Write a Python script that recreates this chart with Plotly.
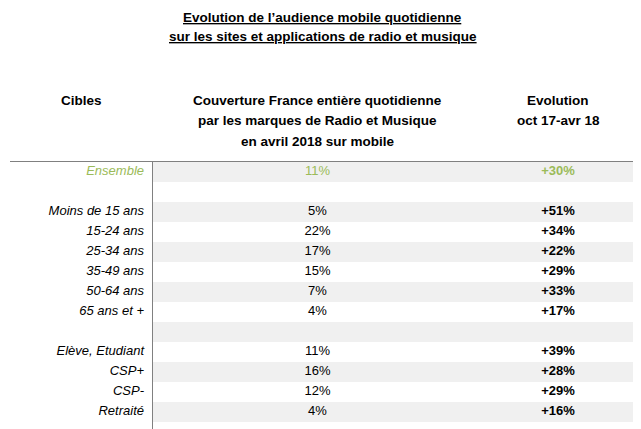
import plotly.graph_objects as go

title_lines = ["Evolution de l\u2019audience mobile quotidienne",
               "sur les sites et applications de radio et musique"]
header_cibles = "Cibles"
header_couv = ["Couverture France enti\u00e8re quotidienne",
               "par les marques de Radio et Musique",
               "en avril 2018 sur mobile"]
header_evol = ["Evolution", "oct 17-avr 18"]

cibles = ["Ensemble", "", "Moins de 15 ans", "15-24 ans", "25-34 ans", "35-49 ans",
          "50-64 ans", "65 ans et +", "", "El\u00e8ve, Etudiant", "CSP+", "CSP-", "Retrait\u00e9"]
couverture = ["11%", "", "5%", "22%", "17%", "15%", "7%", "4%", "", "11%", "16%", "12%", "4%"]
evolution = ["+30%", "", "+51%", "+34%", "+22%", "+29%", "+33%", "+17%", "", "+39%", "+28%", "+29%", "+16%"]

GREEN = "#9bbb59"
GRAY_ROW = "#f0f0f0"
FONT = "Liberation Sans, Arial, sans-serif"

# the page body has an 8px default margin; compensate so the picture lines up
OFF = 8
W, H = 641 - OFF, 429 - OFF

n = len(cibles)
rows = list(range(n))
colors = [GREEN if i == 0 else "#000000" for i in rows]
fills = [GRAY_ROW if i % 2 == 0 else "#ffffff" for i in rows]

X_LINE = 152.5 - OFF
C_LAB, C_COV, C_EVO = 144 - OFF, 317.5 - OFF, 558 - OFF

fig = go.Figure()
fig.add_trace(go.Bar(y=rows, x=[W - X_LINE] * n, base=X_LINE, orientation="h",
                     marker=dict(color=fills, line=dict(width=0)), width=1,
                     hoverinfo="skip", showlegend=False))
fig.add_trace(go.Scatter(y=rows, x=[C_LAB] * n, mode="text", text=cibles,
                         textposition="middle left",
                         textfont=dict(family=FONT, size=13, color=colors, style="italic"),
                         hoverinfo="skip", showlegend=False))
fig.add_trace(go.Scatter(y=rows, x=[C_COV] * n, mode="text", text=couverture,
                         textposition="middle center",
                         textfont=dict(family=FONT, size=13, color=colors),
                         hoverinfo="skip", showlegend=False))
fig.add_trace(go.Scatter(y=rows, x=[C_EVO] * n, mode="text", text=evolution,
                         textposition="middle center",
                         textfont=dict(family=FONT, size=13, color=colors, weight="bold"),
                         hoverinfo="skip", showlegend=False))

MT, MB = 162 - OFF, 7
plot_h = H - MT - MB
def ypaper(px):
    return (H - MB - (px - OFF)) / plot_h

annotations = []
for i, t in enumerate(title_lines):
    annotations.append(dict(text="<b><u>" + t + "</u></b>", x=322.5, y=17 + 20 * i))
annotations.append(dict(text="<b>" + header_cibles + "</b>", x=81, y=101))
for i, t in enumerate(header_couv):
    annotations.append(dict(text="<b>" + t + "</b>", x=317.5, y=101 + 20 * i))
for i, t in enumerate(header_evol):
    annotations.append(dict(text="<b>" + t + "</b>", x=558, y=101 + 20 * i))

for a in annotations:
    a["x"] = a["x"] - OFF
    a["y"] = ypaper(a["y"])
    a.update(xref="x", yref="paper", showarrow=False, xanchor="center", yanchor="middle",
             font=dict(family=FONT, size=13.5, color="#000"))

fig.update_layout(
    width=W, height=H,
    margin=dict(l=0, r=0, t=MT, b=MB, pad=0),
    paper_bgcolor="white", plot_bgcolor="white",
    bargap=0,
    xaxis=dict(range=[0, W], visible=False, fixedrange=True),
    yaxis=dict(range=[n - 0.5, -0.5], visible=False, fixedrange=True),
    annotations=annotations,
    shapes=[
        dict(type="line", xref="x", yref="paper", x0=10 - OFF, x1=W, y0=ypaper(161.5), y1=ypaper(161.5),
             line=dict(color="#808080", width=1)),
        dict(type="line", xref="x", yref="paper", x0=X_LINE, x1=X_LINE, y0=ypaper(161.5), y1=ypaper(429),
             line=dict(color="#808080", width=1)),
    ],
)

fig.write_html("out.html", config={"displayModeBar": False})
